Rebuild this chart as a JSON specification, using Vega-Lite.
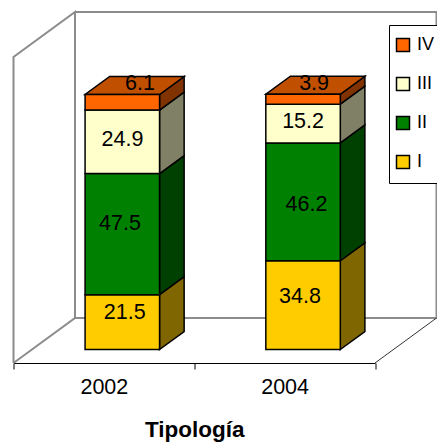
{
  "$schema": "https://vega.github.io/schema/vega-lite/v6.json",
  "width": 361.5,
  "height": 306,
  "padding": {"left": 13.5, "top": 57, "right": 62, "bottom": 79},
  "autosize": {"type": "none"},
  "background": "white",
  "config": {"view": {"stroke": null}, "font": "Liberation Sans"},
  "datasets": {
    "frame": [
      {"path": "walls", "step": 1, "a": 0, "v": 0, "d": 0},
      {"path": "walls", "step": 2, "a": 0, "v": 120, "d": 0},
      {"path": "walls", "step": 3, "a": 0, "v": 120, "d": 1},
      {"path": "walls", "step": 4, "a": 0, "v": 0, "d": 1},
      {"path": "walls", "step": 5, "a": 0, "v": 0, "d": 0},
      {"path": "walls", "step": 6, "a": 0, "v": 0, "d": 1},
      {"path": "walls", "step": 7, "a": 2, "v": 0, "d": 1},
      {"path": "walls", "step": 8, "a": 2, "v": 120, "d": 1},
      {"path": "walls", "step": 9, "a": 0, "v": 120, "d": 1},
      {"path": "edge", "step": 1, "a": 2, "v": 0, "d": 0},
      {"path": "edge", "step": 2, "a": 2, "v": 0, "d": 1}
    ],
    "shares": [
      {"year": "2002", "tipologia": "I", "value": 21.5},
      {"year": "2002", "tipologia": "II", "value": 47.5},
      {"year": "2002", "tipologia": "III", "value": 24.9},
      {"year": "2002", "tipologia": "IV", "value": 6.1},
      {"year": "2004", "tipologia": "I", "value": 34.8},
      {"year": "2004", "tipologia": "II", "value": 46.2},
      {"year": "2004", "tipologia": "III", "value": 15.2},
      {"year": "2004", "tipologia": "IV", "value": 3.9}
    ]
  },
  "resolve": {"axis": {"x": "independent"}},
  "layer": [
    {
      "data": {"name": "frame"},
      "transform": [
        {"filter": "datum.path === 'walls'"},
        {"calculate": "datum.a + datum.d * 0.34025", "as": "px"},
        {"calculate": "datum.v + datum.d * 17.647", "as": "py"}
      ],
      "mark": {"type": "line", "stroke": "#8c8c8c", "strokeWidth": 2, "strokeJoin": "miter"},
      "encoding": {
        "x": {"field": "px", "type": "quantitative", "scale": {"domain": [0, 2], "nice": false, "zero": false}, "axis": {"orient": "bottom", "values": [0, 1, 2], "labels": false, "title": null, "grid": false, "tickSize": 6, "tickColor": "black", "domainColor": "black", "tickWidth": 1, "domainWidth": 1}},
        "y": {"field": "py", "type": "quantitative", "scale": {"domain": [0, 120], "nice": false, "zero": false}, "axis": null},
        "order": {"field": "step", "type": "quantitative"}
      }
    },
    {
      "data": {"name": "frame"},
      "transform": [
        {"filter": "datum.path === 'edge'"},
        {"calculate": "datum.a + datum.d * 0.34025", "as": "px"},
        {"calculate": "datum.v + datum.d * 17.647", "as": "py"}
      ],
      "mark": {"type": "line", "stroke": "#333333", "strokeWidth": 1},
      "encoding": {
        "x": {"field": "px", "type": "quantitative", "axis": {"orient": "bottom", "values": [0.5, 1.5], "labelExpr": "datum.value < 1 ? '2002' : '2004'", "labelFontSize": 21.5, "labelColor": "black", "labelPadding": 13, "labelFlush": false, "tickSize": 0, "domain": false, "ticks": false, "grid": false, "title": "Tipología", "titleFontSize": 22.5, "titleFontWeight": "bold", "titleColor": "black", "titlePadding": 21}},
        "y": {"field": "py", "type": "quantitative", "axis": null},
        "order": {"field": "step", "type": "quantitative"}
      }
    },
    {
      "data": {"name": "shares"},
      "transform": [
        {"stack": "value", "groupby": ["year"], "sort": [{"field": "tipologia", "order": "ascending"}], "as": ["s0", "s1"]},
        {"calculate": "(datum.year === '2002' ? 0 : 1) + 0.396", "as": "x0"},
        {"calculate": "datum.x0 + 0.412", "as": "x1"},
        {"calculate": "datum.s0 + 5.294", "as": "v0"},
        {"calculate": "datum.s1 + 5.294", "as": "v1"},
        {"calculate": "[0, 1]", "as": "t"},
        {"flatten": ["t"]},
        {"calculate": "datum.x1 + datum.t * 0.1361", "as": "sx"},
        {"calculate": "datum.v0 + datum.t * 7.059", "as": "sy0"},
        {"calculate": "datum.v1 + datum.t * 7.059", "as": "sy1"},
        {"calculate": "{'I': '#806600', 'II': '#004000', 'III': '#808066', 'IV': '#803300'}[datum.tipologia]", "as": "sideColor"},
        {"calculate": "datum.year + datum.tipologia", "as": "segment"}
      ],
      "mark": {"type": "area", "stroke": "black", "strokeWidth": 1.5, "strokeJoin": "miter", "opacity": 1},
      "encoding": {
        "x": {"field": "sx", "type": "quantitative", "axis": null},
        "y": {"field": "sy0", "type": "quantitative", "axis": null, "stack": null},
        "y2": {"field": "sy1"},
        "detail": {"field": "segment"},
        "color": {"field": "sideColor", "type": "nominal", "scale": null, "legend": null}
      }
    },
    {
      "data": {"name": "shares"},
      "transform": [
        {"stack": "value", "groupby": ["year"], "sort": [{"field": "tipologia", "order": "ascending"}], "as": ["s0", "s1"]},
        {"filter": "datum.tipologia === 'IV'"},
        {"calculate": "(datum.year === '2002' ? 0 : 1) + 0.396", "as": "x0"},
        {"calculate": "datum.s1 + 5.294", "as": "v1"},
        {"calculate": "[0, 0.1361, 0.412, 0.5481]", "as": "t"},
        {"flatten": ["t"]},
        {"calculate": "datum.x0 + datum.t", "as": "tx"},
        {"calculate": "datum.t < 0.5 ? datum.v1 : datum.v1 + 7.059", "as": "ty0"},
        {"calculate": "datum.t > 0 ? datum.v1 + 7.059 : datum.v1", "as": "ty1"}
      ],
      "mark": {"type": "area", "fill": "#C05000", "stroke": "black", "strokeWidth": 1.5, "strokeJoin": "miter", "opacity": 1},
      "encoding": {
        "x": {"field": "tx", "type": "quantitative", "axis": null},
        "y": {"field": "ty0", "type": "quantitative", "axis": null, "stack": null},
        "y2": {"field": "ty1"},
        "detail": {"field": "year"}
      }
    },
    {
      "data": {"name": "shares"},
      "transform": [
        {"stack": "value", "groupby": ["year"], "sort": [{"field": "tipologia", "order": "ascending"}], "as": ["s0", "s1"]},
        {"calculate": "(datum.year === '2002' ? 0 : 1) + 0.396", "as": "x0"},
        {"calculate": "datum.x0 + 0.412", "as": "x1"},
        {"calculate": "datum.s0 + 5.294", "as": "v0"},
        {"calculate": "datum.s1 + 5.294", "as": "v1"}
      ],
      "mark": {"type": "rect", "stroke": "black", "strokeWidth": 1.5, "opacity": 1},
      "encoding": {
        "x": {"field": "x0", "type": "quantitative", "axis": null},
        "x2": {"field": "x1"},
        "y": {"field": "v0", "type": "quantitative", "axis": null},
        "y2": {"field": "v1"},
        "fill": {
          "field": "tipologia",
          "type": "nominal",
          "scale": {"domain": ["IV", "III", "II", "I"], "range": ["#FF6600", "#FFFFCC", "#008000", "#FFCC00"]},
          "legend": {
            "orient": "none",
            "legendX": 375.5,
            "legendY": -32,
            "title": null,
            "fillColor": "white",
            "strokeColor": "black",
            "padding": 11,
            "symbolType": "square",
            "symbolSize": 169,
            "symbolOffset": -6,
            "symbolStrokeColor": "black",
            "symbolStrokeWidth": 1.5,
            "symbolOpacity": 1,
            "labelFontSize": 18,
            "labelColor": "black",
            "labelOffset": 5,
            "rowPadding": 19
          }
        }
      }
    },
    {
      "data": {"name": "shares"},
      "transform": [
        {"calculate": "datum.year + datum.tipologia", "as": "key"},
        {"calculate": "{'2002I': 0.615, '2002II': 0.589, '2002III': 0.603, '2002IV': 0.7, '2004I': 1.585, '2004II': 1.621, '2004III': 1.602, '2004IV': 1.663}[datum.key]", "as": "lx"},
        {"calculate": "{'2002I': 19.6, '2002II': 54.5, '2002III': 87.6, '2002IV': 109.4, '2004I': 25.9, '2004II': 62, '2004III': 94.5, '2004IV': 109.4}[datum.key]", "as": "ly"}
      ],
      "mark": {"type": "text", "fontSize": 21.5, "color": "black", "align": "center", "baseline": "middle"},
      "encoding": {
        "x": {"field": "lx", "type": "quantitative", "axis": null},
        "y": {"field": "ly", "type": "quantitative", "axis": null},
        "text": {"field": "value", "type": "quantitative", "format": ".1f"}
      }
    }
  ]
}
